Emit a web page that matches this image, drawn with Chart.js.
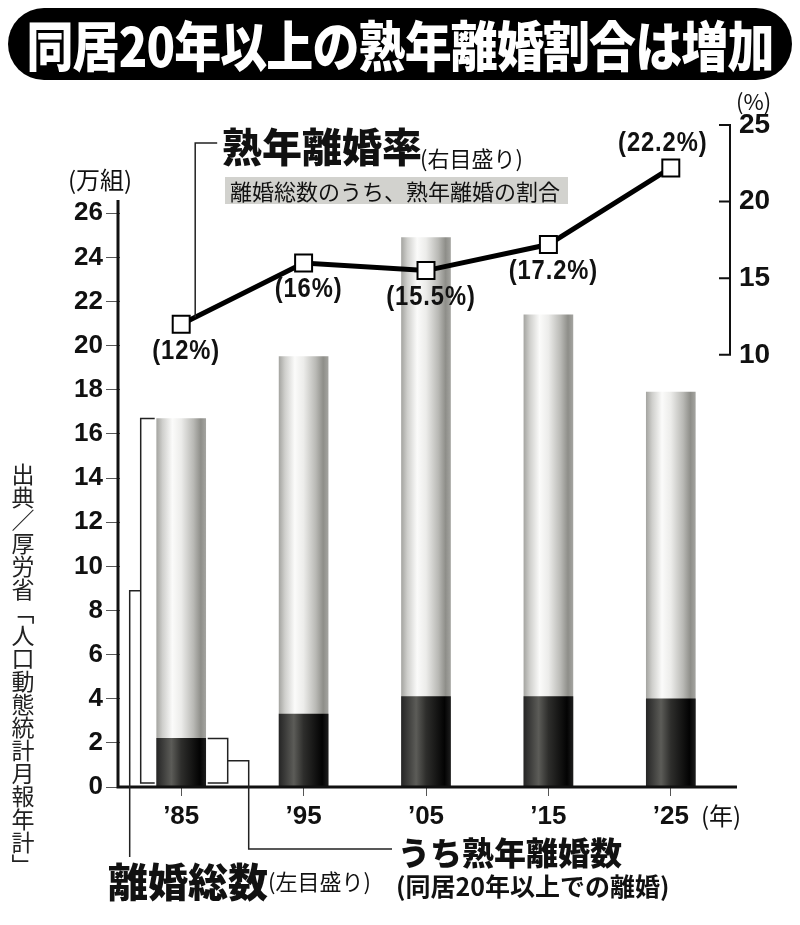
<!DOCTYPE html>
<html>
<head>
<meta charset="utf-8">
<script src="https://cdn.jsdelivr.net/npm/chart.js@4/dist/chart.umd.min.js"></script>
<style>
  body { margin: 0; background: #fff; }
  #wrap { position: relative; width: 800px; height: 925px; overflow: hidden; font-family: "Noto Sans CJK JP", sans-serif; color: #111; }
  #chart { position: absolute; left: 0; top: 0; }
  .t { position: absolute; white-space: nowrap; line-height: 1; }
  #title { left: 8px; top: 8px; width: 784px; height: 72px; background: #000; color: #fff; border-radius: 36px;
           font-size: 54px; font-weight: 900; line-height: 72px; }
  #title span { position: absolute; left: 50%; top: 0; white-space: nowrap; transform: translateX(-50%) scaleX(0.87); letter-spacing: -1px; }
  #box { left: 225px; top: 177px; width: 338px; height: 27px; line-height: 27px; padding-left: 5px; background: #d2d2ce; font-size: 22px; }
  #source { left: 11px; top: 463px; font-size: 23px; writing-mode: vertical-rl; color: #222; }
</style>
</head>
<body>
<div id="wrap">
  <canvas id="chart" width="800" height="925"></canvas>
  <div class="t" id="title"><span>同居20年以上の熟年離婚割合は増加</span></div>
  <div class="t" style="left:736px;top:89px;font-size:22px;">(%)</div>
  <div class="t" style="left:68px;top:167px;font-size:24px;">(万組)</div>
  <div class="t" style="left:701px;top:803px;font-size:24px;">(年)</div>
  <div class="t" style="left:222px;top:125px;font-size:40px;font-weight:900;">熟年離婚率</div>
  <div class="t" style="left:420px;top:146px;font-size:22px;">(右目盛り)</div>
  <div class="t" id="box">離婚総数のうち、熟年離婚の割合</div>
  <div class="t" style="left:108px;top:860px;font-size:40px;font-weight:900;">離婚総数</div>
  <div class="t" style="left:268px;top:869px;font-size:22px;">(左目盛り)</div>
  <div class="t" style="left:398px;top:835px;font-size:32px;font-weight:900;">うち熟年離婚数</div>
  <div class="t" style="left:396px;top:873px;font-size:25px;font-weight:700;">(同居20年以上での離婚)</div>
  <div class="t" id="source">出典／厚労省「人口動態統計月報年計」</div>
</div>
<script>
// データ（万組・％）
const years = ["’85", "’95", "’05", "’15", "’25"];
const totalDivorces = [16.7, 19.5, 24.9, 21.4, 17.9];
const longMarriageDivorces = [2.2, 3.3, 4.1, 4.1, 4.0];
const longMarriageRate = [12, 16, 15.5, 17.2, 22.2];
const leftTicks = [0, 2, 4, 6, 8, 10, 12, 14, 16, 18, 20, 22, 24, 26];
const rightTicks = [10, 15, 20, 25];

const BAR_W = 49;
const numFont = "Liberation Sans, Arial, sans-serif";

const lightStops = [[0, "#a6a6a2"], [0.12, "#cfcfcc"], [0.32, "#fbfbfa"], [0.5, "#ececea"], [0.75, "#b9b9b5"], [0.9, "#8e8e89"], [1, "#a3a39f"]];
const darkStops = [[0, "#262626"], [0.3, "#5c5c58"], [0.5, "#2e2e2c"], [0.88, "#030303"], [1, "#1c1c1c"]];

// 円柱風のグラデーション
function barFill(ctx, stops) {
    if (ctx.type !== "data") return stops[2][1];
    const chart = ctx.chart;
    const cx = chart.scales.x ? chart.scales.x.getPixelForValue(ctx.dataIndex) : NaN;
    if (!isFinite(cx)) return stops[2][1];
    const g = chart.ctx.createLinearGradient(cx - BAR_W / 2, 0, cx + BAR_W / 2, 0);
    stops.forEach(([p, c]) => g.addColorStop(p, c));
    return g;
}

// 軸線・ブラケット・ラベル
const decorations = {
    id: "decorations",
    afterDatasetsDraw(chart) {
        const { ctx, chartArea } = chart;
        const { x, y, y2 } = chart.scales;
        ctx.save();
        ctx.strokeStyle = "#111";
        ctx.lineCap = "butt";

        // 左軸と横軸
        const y0 = y.getPixelForValue(0);
        ctx.lineWidth = 3;
        ctx.beginPath();
        ctx.moveTo(chartArea.left - 2, y.getPixelForValue(26.6));
        ctx.lineTo(chartArea.left - 2, y0 + 1.5);
        ctx.moveTo(chartArea.left - 3.5, y0);
        ctx.lineTo(chartArea.right + 5, y0);
        ctx.stroke();

        // 右軸
        const xr = chartArea.right - 2;
        ctx.lineWidth = 2;
        ctx.beginPath();
        ctx.moveTo(xr, y2.getPixelForValue(25) - 1);
        ctx.lineTo(xr, y2.getPixelForValue(10) + 1);
        rightTicks.forEach(v => {
            const py = y2.getPixelForValue(v);
            ctx.moveTo(xr - 11, py);
            ctx.lineTo(xr, py);
        });
        ctx.stroke();

        // '85のブラケット
        const cx = x.getPixelForValue(0);
        const bl = cx - BAR_W / 2, br = cx + BAR_W / 2;
        const yTop = y.getPixelForValue(totalDivorces[0]);
        const yDark = y.getPixelForValue(longMarriageDivorces[0]);
        const yBot = y0 - 4;
        ctx.lineWidth = 1.5;
        ctx.strokeStyle = "#222";
        ctx.beginPath();
        ctx.moveTo(bl - 2, yTop);
        ctx.lineTo(bl - 16, yTop);
        ctx.lineTo(bl - 16, yBot);
        ctx.lineTo(bl - 2, yBot);
        const mid1 = (yTop + yBot) / 2 - 10;
        ctx.moveTo(bl - 16, mid1);
        ctx.lineTo(bl - 27, mid1);
        ctx.lineTo(bl - 27, 857);

        ctx.moveTo(br + 2, yDark);
        ctx.lineTo(br + 22, yDark);
        ctx.lineTo(br + 22, yBot);
        ctx.lineTo(br + 2, yBot);
        const mid2 = (yDark + yBot) / 2;
        ctx.moveTo(br + 22, mid2);
        ctx.lineTo(br + 43, mid2);
        ctx.lineTo(br + 43, 849);
        ctx.lineTo(392, 849);

        // 熟年離婚率への引き出し線
        const lineMeta = chart.getDatasetMeta(2);
        const p0 = lineMeta.data[0];
        ctx.moveTo(p0.x + 14, p0.y - 7);
        ctx.lineTo(p0.x + 14, 143);
        ctx.lineTo(p0.x + 36, 143);
        ctx.stroke();

        // 折れ線の値ラベル
        ctx.fillStyle = "#111";
        ctx.font = "bold 27px " + numFont;
        ctx.textAlign = "center";
        ctx.textBaseline = "middle";
        lineMeta.data.forEach((pt, i) => {
            const last = i === lineMeta.data.length - 1;
            const tx = pt.x + (last ? -8 : 5);
            const ty = pt.y + (last ? -24 : 27);
            ctx.save();
            ctx.translate(tx, ty);
            ctx.scale(0.88, 1);
            ctx.letterSpacing = "1px";
            ctx.fillText("(" + longMarriageRate[i] + "%)", 0, 0);
            ctx.restore();
        });
        ctx.restore();
    }
};

new Chart(document.getElementById("chart"), {
    data: {
        labels: years,
        datasets: [
            {
                type: "bar",
                label: "熟年離婚数",
                data: longMarriageDivorces,
                yAxisID: "y",
                grouped: false,
                barThickness: BAR_W,
                backgroundColor: ctx => barFill(ctx, darkStops),
                borderWidth: 0,
                order: 1
            },
            {
                type: "bar",
                label: "離婚総数",
                data: totalDivorces,
                yAxisID: "y",
                grouped: false,
                barThickness: BAR_W,
                backgroundColor: ctx => barFill(ctx, lightStops),
                borderWidth: 0,
                order: 2
            },
            {
                type: "line",
                label: "熟年離婚率",
                data: longMarriageRate,
                yAxisID: "y2",
                borderColor: "#000",
                borderWidth: 5,
                tension: 0,
                pointStyle: "rect",
                pointRadius: 12,
                pointBorderWidth: 2,
                pointBorderColor: "#000",
                pointBackgroundColor: "#fff",
                order: 0
            }
        ]
    },
    options: {
        responsive: false,
        animation: false,
        layout: { padding: { top: 125, left: 0, right: 0, bottom: 0 } },
        plugins: { legend: { display: false }, tooltip: { enabled: false } },
        scales: {
            x: {
                offset: true,
                grid: { offset: false, drawOnChartArea: false, tickLength: 9, color: "#555", lineWidth: 1 },
                border: { display: false },
                ticks: { color: "#111", padding: 5, font: { family: numFont, size: 26, weight: "bold" } },
                afterFit(scale) { scale.height = 138; }
            },
            y: {
                position: "left",
                min: 0,
                max: 30,
                afterBuildTicks(scale) { scale.ticks = leftTicks.map(v => ({ value: v })); },
                grid: { drawOnChartArea: false, tickLength: 14, color: "#555", lineWidth: 1 },
                border: { display: false },
                ticks: { color: "#111", padding: 3, font: { family: numFont, size: 26, weight: "bold" } },
                afterFit(scale) { scale.width = 120; }
            },
            y2: {
                position: "right",
                min: -18.2,
                max: 25,
                afterBuildTicks(scale) { scale.ticks = rightTicks.map(v => ({ value: v })); },
                grid: { display: false, drawTicks: false },
                border: { display: false },
                ticks: { color: "#111", padding: 7, font: { family: numFont, size: 28, weight: "bold" } },
                afterFit(scale) { scale.width = 68; }
            }
        }
    },
    plugins: [decorations]
});
</script>
</body>
</html>
